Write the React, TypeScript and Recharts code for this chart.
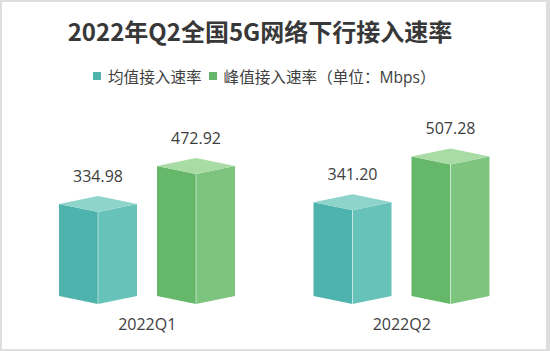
import React from "react";
import { BarChart, Bar, XAxis, YAxis } from "recharts";

const categories = ["2022Q1", "2022Q2"];
const avgRate = [334.98, 341.2];
const peakRate = [472.92, 507.28];
const seriesNames = ["均值接入速率", "峰值接入速率（单位：Mbps）"];

const tealFaces = { left: "#4db3ac", right: "#67c2b9", top: "#8fd4cb" };
const greenFaces = { left: "#65b869", right: "#7dc47e", top: "#a9dba5" };

const chartData = categories.map((name, i) => ({
  name,
  avg: avgRate[i],
  peak: peakRate[i],
}));

const FONT = "'Open Sans', 'Noto Sans CJK SC', sans-serif";

// 3d box drawn from the bar's own rect
const Prism = (props: any) => {
  const { x, y, width, height, faces } = props;
  const d = 8;
  const mid = x + width / 2;
  const right = x + width;
  const bottom = y + height;
  return (
    <g>
      <polygon
        points={`${x},${y - d} ${mid},${y} ${mid},${bottom} ${x},${bottom - d}`}
        fill={faces.left}
      />
      <polygon
        points={`${mid},${y} ${right},${y - d} ${right},${bottom - d} ${mid},${bottom}`}
        fill={faces.right}
      />
      <polygon
        points={`${x},${y - d} ${mid},${y - 2 * d} ${right},${y - d} ${mid},${y}`}
        fill={faces.top}
      />
      <line x1={mid} y1={y} x2={mid} y2={bottom} stroke="#ffffff" strokeOpacity={0.5} strokeWidth={1} />
    </g>
  );
};

const valueLabel = (p: any) => (
  <text
    x={p.x + p.width / 2}
    y={p.y - 30}
    textAnchor="middle"
    fontSize={16}
    fill="#404040"
    fontFamily={FONT}
  >
    {Number(p.value).toFixed(2)}
  </text>
);

const App = () => {
  return (
    <div style={{ position: "absolute", left: 0, top: 0, width: 550, height: 351, background: "#fff", fontFamily: FONT }}>
      <div
        style={{
          position: "absolute",
          left: 0,
          top: 0,
          width: 550,
          height: 351,
          boxSizing: "border-box",
          borderStyle: "solid",
          borderColor: "#dedede",
          borderWidth: "2px 4px 2px 2px",
          pointerEvents: "none",
          zIndex: 2,
        }}
      />
      <div
        style={{
          position: "absolute",
          left: 0,
          top: 16,
          width: 520,
          lineHeight: "30px",
          textAlign: "center",
          fontSize: 24,
          fontWeight: "bold",
          color: "#383838",
          fontFamily: "'Noto Sans CJK SC', sans-serif",
        }}
      >
        2022年Q2全国5G网络下行接入速率
      </div>
      <div
        style={{
          position: "absolute",
          left: 93,
          top: 66,
          height: 20,
          display: "flex",
          alignItems: "center",
          fontSize: 15.6,
          color: "#404040",
          whiteSpace: "nowrap",
        }}
      >
        <span style={{ width: 8, height: 8, background: tealFaces.left, marginRight: 7 }} />
        <span style={{ marginRight: 7 }}>{seriesNames[0]}</span>
        <span style={{ width: 8, height: 8, background: greenFaces.left, marginRight: 7 }} />
        <span>{seriesNames[1]}</span>
      </div>
      <div style={{ position: "absolute", left: 0, top: 0 }}>
        <BarChart
          width={550}
          height={351}
          data={chartData}
          margin={{ top: 139, right: 21, bottom: 17, left: 20 }}
          barSize={78}
          barGap={20}
        >
          <XAxis
            dataKey="name"
            axisLine={false}
            tickLine={false}
            tickMargin={9}
            tick={{ fontSize: 16, fill: "#404040", fontFamily: FONT }}
          />
          <YAxis hide domain={[0, 600]} />
          <Bar
            dataKey="avg"
            isAnimationActive={false}
            shape={(p: any) => <Prism {...p} faces={tealFaces} />}
            label={valueLabel}
          />
          <Bar
            dataKey="peak"
            isAnimationActive={false}
            shape={(p: any) => <Prism {...p} faces={greenFaces} />}
            label={valueLabel}
          />
        </BarChart>
      </div>
    </div>
  );
};

export default App;
